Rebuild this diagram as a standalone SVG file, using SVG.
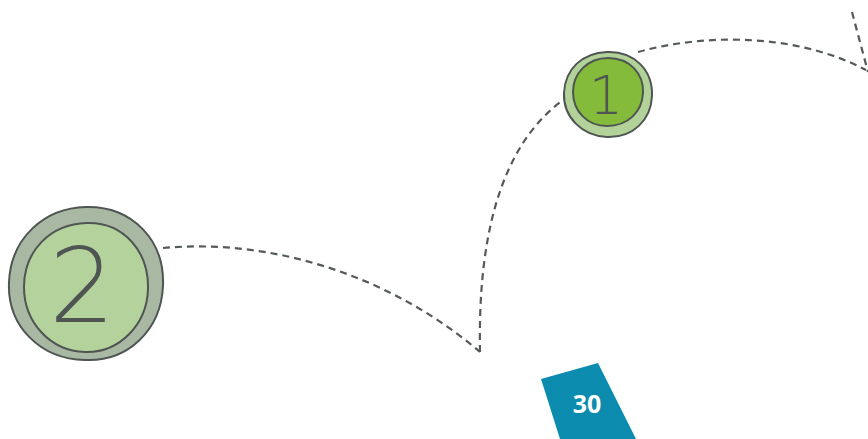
<svg xmlns="http://www.w3.org/2000/svg" width="868" height="439" viewBox="0 0 868 439">
<style>
.dash{fill:none;stroke:#555a57;stroke-width:2.2;stroke-dasharray:7 5;}
.ring{stroke:#4f5552;stroke-width:2;}
.num{font-family:"DejaVu Sans","Liberation Sans",sans-serif;font-weight:200;fill:#4f5552;}
</style>
<rect width="868" height="439" fill="#ffffff"/>
<g id="connectors">
<path class="dash" d="M163,248 C 270,238 390,275 480,352"/>
<path class="dash" d="M480,352 C 478,250 495,150 563,100"/>
<path class="dash" d="M638,52 C 710,32 800,35 866,70"/>
<path class="dash" d="M852,12 L868,72"/>
</g>
<g id="node-2">
<path class="ring" fill="#a9b8a3" d="M86,207 C 132,206 165,240 163,286 C 161,330 128,362 85,360 C 40,359 7,326 9,282 C 11,238 44,208 86,207 Z"/>
<path class="ring" fill="#b4d39c" d="M87,223 C 124,222 149,252 148,289 C 147,324 120,353 85,352 C 50,351 24,322 24,287 C 24,251 50,224 87,223 Z"/>
<text class="num" x="82" y="322" font-size="104" text-anchor="middle">2</text>
</g>
<g id="node-1">
<path class="ring" fill="#b3d29a" d="M607,52 C 634,51 653,70 652,96 C 651,120 633,138 607,137 C 582,136 563,117 564,93 C 565,69 582,53 607,52 Z"/>
<path class="ring" fill="#84bb3a" d="M608,58 C 630,58 644,74 643,93 C 642,112 628,126 607,126 C 587,126 573,111 573,92 C 573,73 588,58 608,58 Z"/>
<text class="num" x="606" y="114" font-size="54" text-anchor="middle">1</text>
</g>
<g id="page-badge">
<polygon points="541,379 598,363 636,439 560,439" fill="#0b8cae"/>
<text x="587" y="413" font-family="'Open Sans','Liberation Sans',sans-serif" font-weight="bold" font-size="25" fill="#ffffff" text-anchor="middle">30</text>
</g>
</svg>
